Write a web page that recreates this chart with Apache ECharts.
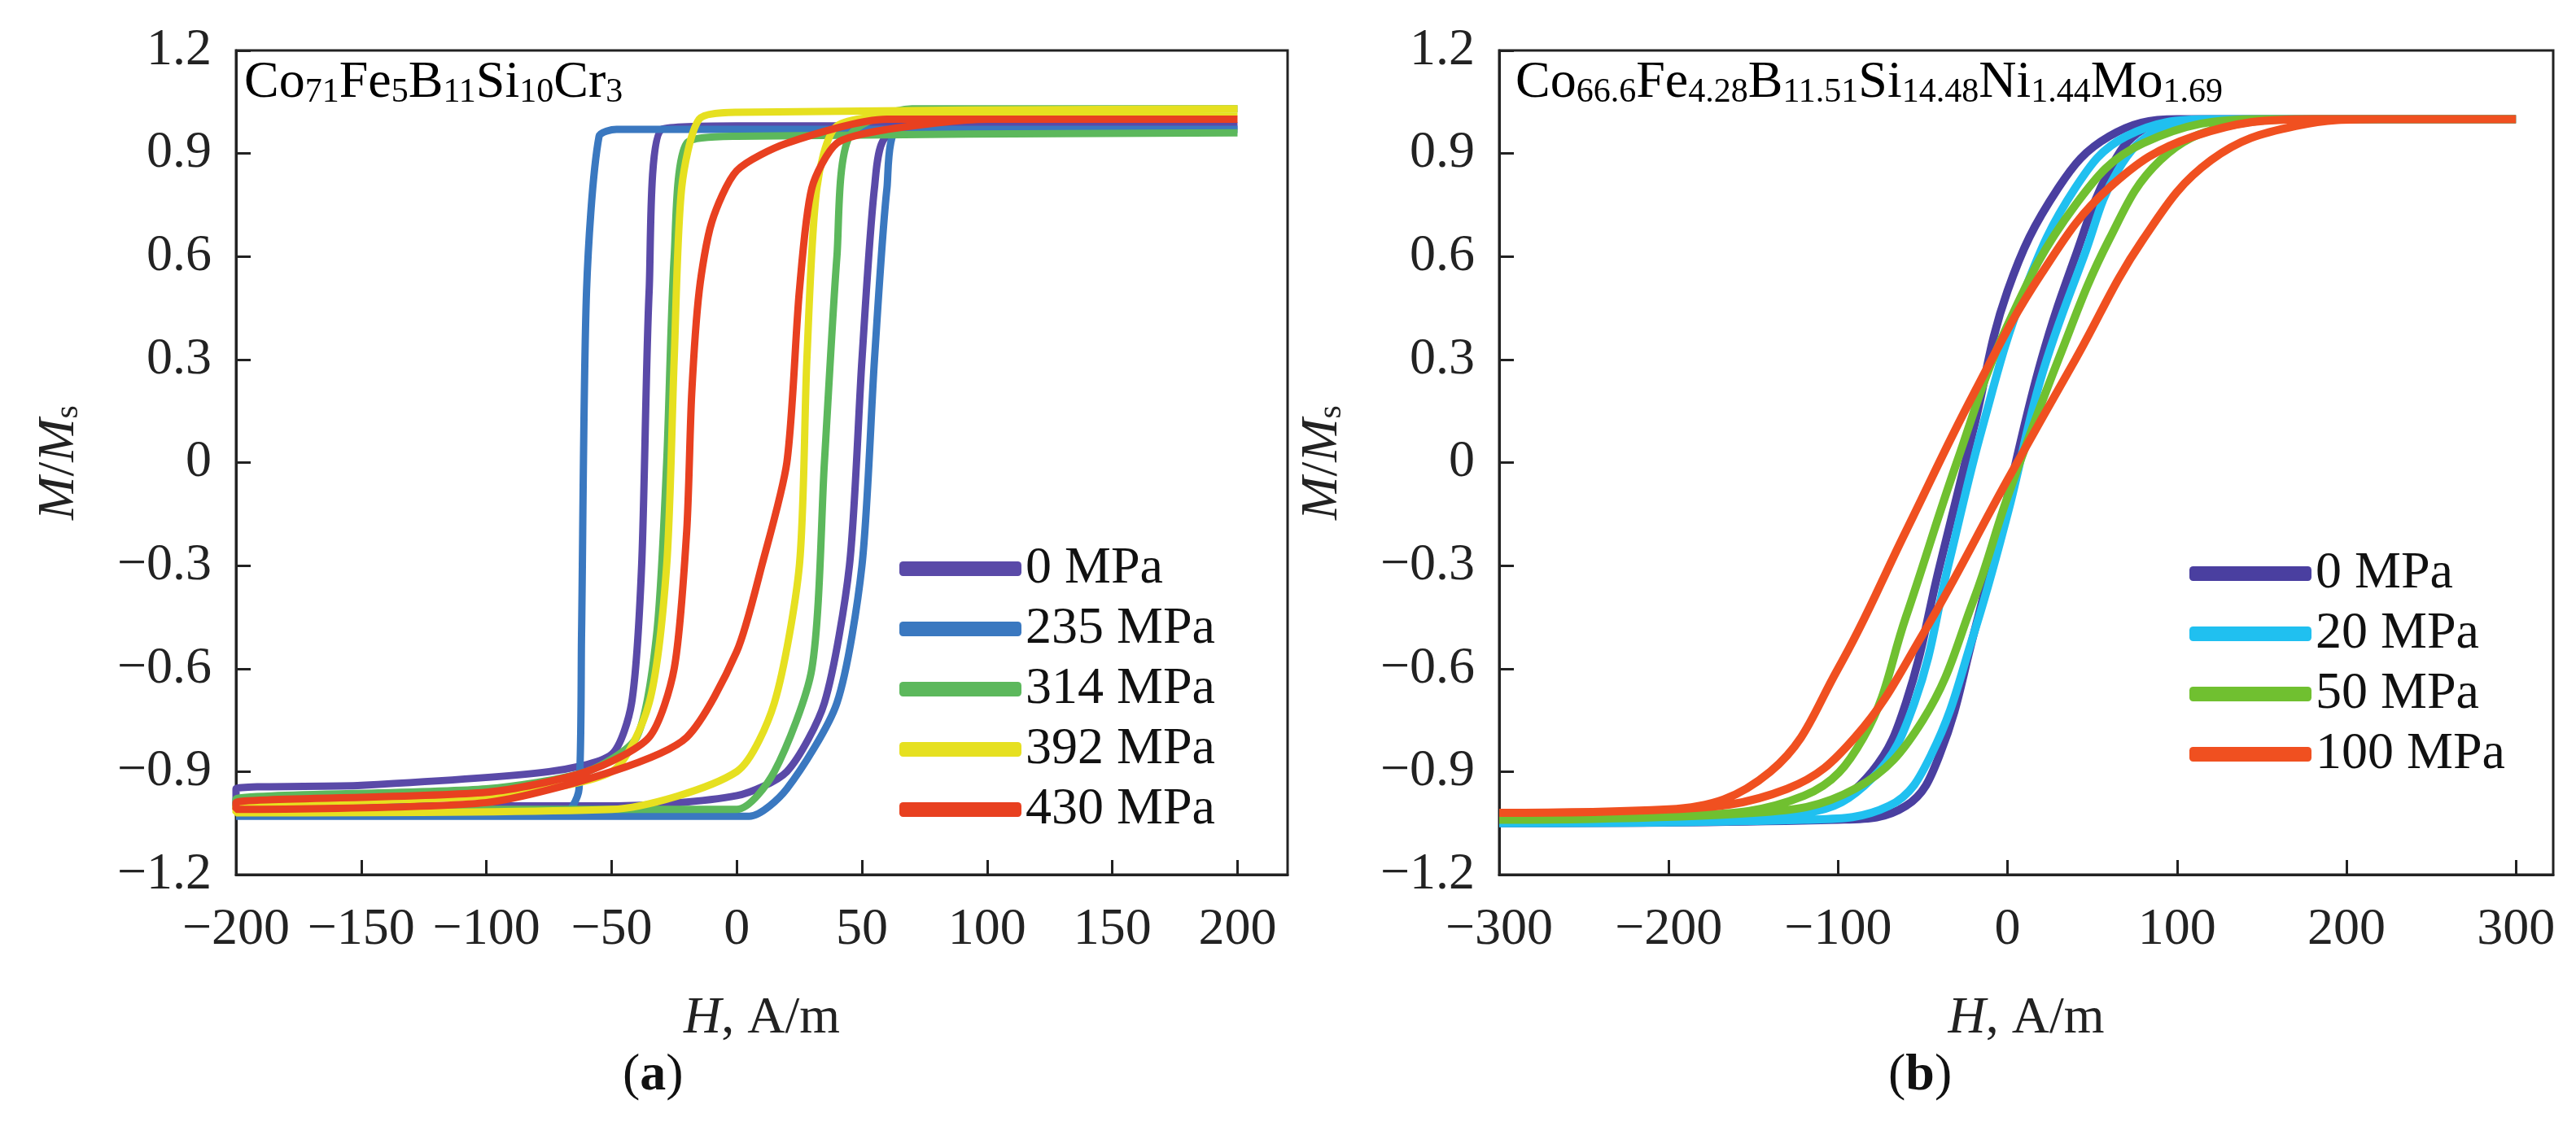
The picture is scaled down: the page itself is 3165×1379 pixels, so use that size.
<!DOCTYPE html>
<html>
<head>
<meta charset="utf-8">
<script src="https://cdn.jsdelivr.net/npm/echarts@6/dist/echarts.min.js"></script>
</head>
<body style="margin:0">
<div id="main" style="width:3165px;height:1379px"></div>
<script>
// panel (a): each loop = upper (descending) branch then lower (ascending) branch
var namesA = ['0 MPa', '235 MPa', '314 MPa', '392 MPa', '430 MPa'];
var colorsA = ['#5a4aa8', '#3a78c0', '#5cb85c', '#e6e020', '#e84020'];
var loop0 = [[200,0.98],[0,0.98],[-30,0.97],[-35,0.5],[-38,-0.3],[-42,-0.7],[-50,-0.85],[-75,-0.9],[-150,-0.94],[-200,-0.95],
  [-200,-1.0],[-50,-1.0],[0,-0.97],[20,-0.9],[35,-0.7],[45,-0.3],[50,0.3],[55,0.8],[60,0.95],[100,0.98],[200,0.98]];
var loop235 = [[200,0.97],[-48,0.97],[-55,0.95],[-60,0.5],[-62,-0.5],[-63,-0.95],[-70,-1.03],[-200,-1.03],
  [-200,-1.03],[5,-1.03],[20,-0.95],[40,-0.7],[50,-0.3],[55,0.3],[60,0.8],[65,0.97],[200,0.97]];
var loop314 = [[200,0.96],[0,0.95],[-20,0.93],[-25,0.6],[-28,0],[-32,-0.5],[-40,-0.8],[-60,-0.9],[-100,-0.95],[-200,-0.98],
  [-200,-1.01],[0,-1.01],[15,-0.9],[30,-0.6],[35,0],[40,0.6],[45,0.95],[70,1.03],[200,1.03]];
var loop392 = [[200,1.03],[0,1.02],[-15,1.0],[-22,0.8],[-25,0.3],[-28,-0.3],[-35,-0.7],[-50,-0.9],[-100,-0.97],[-200,-1.0],
  [-200,-1.02],[-50,-1.01],[0,-0.9],[15,-0.7],[25,-0.3],[28,0.3],[32,0.8],[40,0.98],[70,1.01],[200,1.02]];
var loop430 = [[200,1.0],[60,1.0],[20,0.93],[0,0.85],[-10,0.7],[-15,0.5],[-18,0.2],[-20,-0.2],[-25,-0.6],[-35,-0.8],[-60,-0.9],[-100,-0.96],[-200,-0.99],
  [-200,-1.01],[-100,-0.99],[-50,-0.9],[-20,-0.8],[0,-0.55],[10,-0.3],[20,0],[25,0.5],[30,0.8],[40,0.93],[60,0.97],[100,1.0],[200,1.0]];
var dataA = [loop0, loop235, loop314, loop392, loop430];

// panel (b)
var namesB = ['0 MPa', '20 MPa', '50 MPa', '100 MPa'];
var colorsB = ['#4a3fa0', '#20c0f0', '#70c030', '#f05020'];
var b0 = [[300,1.0],[100,1.0],[60,0.95],[30,0.8],[0,0.5],[-20,0.1],[-40,-0.3],[-60,-0.7],[-80,-0.9],[-110,-1.0],[-200,-1.04],[-300,-1.05],
  [-300,-1.05],[-100,-1.04],[-60,-1.0],[-40,-0.85],[-20,-0.5],[0,-0.1],[20,0.3],[40,0.6],[60,0.85],[80,0.97],[110,1.0],[300,1.0]];
var b20 = [[300,1.0],[120,1.0],[70,0.95],[40,0.8],[10,0.5],[-15,0.1],[-35,-0.3],[-55,-0.7],[-80,-0.92],[-120,-1.02],[-300,-1.05],
  [-300,-1.05],[-120,-1.04],[-70,-1.0],[-45,-0.85],[-20,-0.5],[0,-0.15],[20,0.25],[45,0.6],[65,0.85],[90,0.97],[130,1.0],[300,1.0]];
var b50 = [[300,1.0],[150,1.0],[80,0.93],[40,0.75],[0,0.4],[-30,0.0],[-60,-0.45],[-85,-0.8],[-120,-0.97],[-200,-1.03],[-300,-1.04],
  [-300,-1.04],[-150,-1.02],[-90,-0.95],[-50,-0.75],[-20,-0.4],[0,-0.1],[30,0.3],[60,0.65],[90,0.88],[130,0.98],[180,1.0],[300,1.0]];
var b100 = [[300,1.0],[180,1.0],[110,0.95],[60,0.8],[20,0.55],[-20,0.2],[-60,-0.2],[-100,-0.6],[-140,-0.9],[-200,-1.01],[-300,-1.02],
  [-300,-1.02],[-200,-1.01],[-130,-0.95],[-90,-0.8],[-50,-0.5],[0,-0.05],[40,0.3],[80,0.65],[120,0.88],[170,0.98],[220,1.0],[300,1.0]];
var dataB = [b0, b20, b50, b100];

var font = 'Liberation Serif';
function xAx(idx, min, max, step) {
  return {
    type: 'value', gridIndex: idx, min: min, max: max, interval: step,
    name: '{i|H}, A/m', nameLocation: 'middle', nameGap: 145,
    nameTextStyle: { fontFamily: font, fontSize: 64, color: '#222', rich: { i: { fontStyle: 'italic', fontFamily: font, fontSize: 64 } } },
    axisLine: { onZero: false, lineStyle: { color: '#222', width: 3 } },
    axisTick: { inside: true, length: 18, lineStyle: { width: 3 } },
    axisLabel: { showMaxLabel: false, fontFamily: font, fontSize: 64, color: '#222', margin: 36,
      formatter: function (v) { return String(v).replace('-', '\u2212'); } },
    splitLine: { show: false }
  };
}
function yAx(idx) {
  return {
    type: 'value', gridIndex: idx, min: -1.2, max: 1.2, interval: 0.3,
    name: '{i|M}/{i|M}{s|s}', nameLocation: 'middle', nameGap: 185,
    nameTextStyle: { fontFamily: font, fontSize: 64, color: '#222',
      rich: { i: { fontStyle: 'italic', fontFamily: font, fontSize: 64 }, s: { fontFamily: font, fontSize: 42, verticalAlign: 'bottom', padding: [20, 0, 0, 0] } } },
    axisLine: { onZero: false, lineStyle: { color: '#222', width: 3 } },
    axisTick: { inside: true, length: 18, lineStyle: { width: 3 } },
    axisLabel: { fontFamily: font, fontSize: 64, color: '#222', margin: 30,
      formatter: function (v) { return (Math.abs(v) < 1e-9 ? '0' : v.toFixed(1)).replace('-', '\u2212'); } },
    splitLine: { show: false }
  };
}
var series = [];
dataA.forEach(function (d, i) {
  series.push({ name: namesA[i], type: 'line', xAxisIndex: 0, yAxisIndex: 0, data: d, smooth: 0.25,
    symbol: 'none', color: colorsA[i], lineStyle: { width: 9 } });
});
dataB.forEach(function (d, i) {
  series.push({ name: namesB[i] + ' ', type: 'line', xAxisIndex: 1, yAxisIndex: 1, data: d, smooth: 0.4,
    symbol: 'none', color: colorsB[i], lineStyle: { width: 10 } });
});
var legendBase = { orient: 'vertical', itemWidth: 150, itemHeight: 18, itemGap: 10, icon: 'roundRect',
  textStyle: { fontFamily: font, fontSize: 64, color: '#111' } };
var sub = { fontFamily: font, fontSize: 42, color: '#111', verticalAlign: 'bottom', padding: [24, 0, 0, 0] };
var big = { fontFamily: font, fontSize: 64, color: '#111' };
var option = {
  backgroundColor: '#fff',
  animation: false,
  grid: [
    { left: 290, right: 1583, top: 62, bottom: 304, show: true, borderColor: '#222', borderWidth: 3 },
    { left: 1842, right: 28, top: 62, bottom: 304, show: true, borderColor: '#222', borderWidth: 3 }
  ],
  xAxis: [xAx(0, -200, 220, 50), xAx(1, -300, 322, 100)],
  yAxis: [yAx(0), yAx(1)],
  legend: [
    Object.assign({ left: 1100, top: 662, data: namesA }, legendBase),
    Object.assign({ left: 2685, top: 668, data: namesB.map(function (n) { return n + ' '; }) }, legendBase)
  ],
  graphic: [
    { type: 'text', left: 300, top: 70, style: { text: '{b|Co}{s|71}{b|Fe}{s|5}{b|B}{s|11}{b|Si}{s|10}{b|Cr}{s|3}', rich: { b: big, s: sub } } },
    { type: 'text', left: 1862, top: 70, style: { text: '{b|Co}{s|66.6}{b|Fe}{s|4.28}{b|B}{s|11.51}{b|Si}{s|14.48}{b|Ni}{s|1.44}{b|Mo}{s|1.69}', rich: { b: big, s: sub } } },
    { type: 'text', left: 765, top: 1290, style: { text: '({b|a})', fontFamily: font, fontSize: 64, fill: '#111', rich: { b: { fontFamily: font, fontSize: 64, fontWeight: 'bold' } } } },
    { type: 'text', left: 2320, top: 1290, style: { text: '({b|b})', fontFamily: font, fontSize: 64, fill: '#111', rich: { b: { fontFamily: font, fontSize: 64, fontWeight: 'bold' } } } }
  ],
  series: series
};
echarts.init(document.getElementById('main')).setOption(option);
</script>
</body>
</html>
